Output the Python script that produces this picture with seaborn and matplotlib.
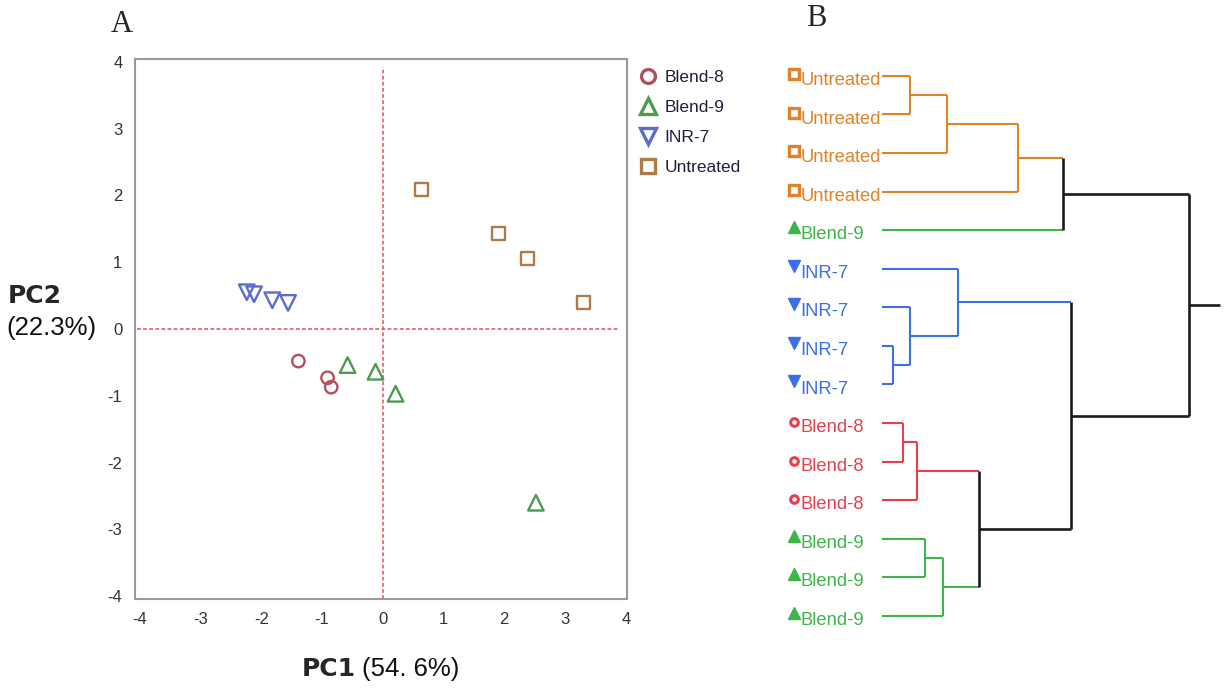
import numpy as np
import pandas as pd
import matplotlib
matplotlib.use("Agg")
import matplotlib.pyplot as plt
from matplotlib.lines import Line2D
import seaborn as sns

# ---- PCA scores (panel A) ----
blend8_pc1 = [-1.39, -0.91, -0.85]
blend8_pc2 = [-0.48, -0.73, -0.87]
blend9_pc1 = [-0.58, -0.12, 0.21, 2.52]
blend9_pc2 = [-0.54, -0.64, -0.97, -2.60]
inr7_pc1 = [-2.24, -2.12, -1.82, -1.56]
inr7_pc2 = [0.55, 0.52, 0.43, 0.39]
untreated_pc1 = [0.64, 1.90, 2.38, 3.30]
untreated_pc2 = [2.09, 1.43, 1.06, 0.40]

groups = ["Blend-8", "Blend-9", "INR-7", "Untreated"]
axis_ticks = [-4, -3, -2, -1, 0, 1, 2, 3, 4]
pc1_label, pc1_var = "PC1", "(54. 6%)"
pc2_label, pc2_var = "PC2", "(22.3%)"

# ---- hierarchical clustering (panel B) ----
leaf_groups = ["Untreated"] * 4 + ["Blend-9"] + ["INR-7"] * 4 + ["Blend-8"] * 3 + ["Blend-9"] * 3
# merges: node id = n_leaves + row index
merge_left = [0, 15, 16, 17, 7, 6, 5, 9, 22, 12, 24, 23, 21, 18]
merge_right = [1, 2, 3, 4, 8, 19, 20, 10, 11, 13, 14, 25, 26, 27]
merge_height = [85, 194, 409, 544, 34, 84, 229, 62, 106, 128, 182, 291, 566, 922]
root_tail = 1015

# ---- styling ----
sns.set_style("white")
plt.rcParams["font.family"] = ["Liberation Sans", "DejaVu Sans"]
plt.rcParams["axes.unicode_minus"] = False

pca_palette = {"Blend-8": "#B0505F", "Blend-9": "#4E9A50", "INR-7": "#5B6DC8", "Untreated": "#B07A48"}
pca_markers = {"Blend-8": "o", "Blend-9": "^", "INR-7": "v", "Untreated": "s"}
pca_sizes = {"Blend-8": 80, "Blend-9": 125, "INR-7": 125, "Untreated": 90}
tree_palette = {"Blend-8": "#E4404F", "Blend-9": "#3DB54A", "INR-7": "#3C6FE6", "Untreated": "#E0822A"}
tree_icons = {"Blend-8": "o", "Blend-9": "^", "INR-7": "v", "Untreated": "s"}
link_black = "#1c1c1c"
tick_color = "#333333"
frame_color = "#9a9a9a"
ref_red = "#E0505E"

W, H = 1225, 692
fig = plt.figure(figsize=(W / 100, H / 100), dpi=100)

def px_axes(left, top, right, bottom):
    return fig.add_axes([left / W, 1 - bottom / H, (right - left) / W, (bottom - top) / H])

# ================= Panel A: PCA score plot =================
ax = px_axes(135, 59, 627, 599)

df = pd.DataFrame({
    "PC1": blend8_pc1 + blend9_pc1 + inr7_pc1 + untreated_pc1,
    "PC2": blend8_pc2 + blend9_pc2 + inr7_pc2 + untreated_pc2,
    "Group": ["Blend-8"] * len(blend8_pc1) + ["Blend-9"] * len(blend9_pc1)
             + ["INR-7"] * len(inr7_pc1) + ["Untreated"] * len(untreated_pc1),
})

ax.axhline(0, xmin=0.005, xmax=0.985, color=ref_red, lw=1.1, ls=(0, (2.5, 1.5)), zorder=1)
ax.axvline(0, ymin=0.0, ymax=0.985, color=ref_red, lw=1.1, ls=(0, (2.5, 1.5)), zorder=1)

sns.scatterplot(data=df, x="PC1", y="PC2", hue="Group", style="Group", size="Group",
                hue_order=groups, style_order=groups, size_order=groups,
                palette=pca_palette, markers=pca_markers, sizes=pca_sizes,
                legend=False, ax=ax, zorder=3)
coll = ax.collections[-1]
fcs = coll.get_facecolors()
coll.set_edgecolors(fcs)
coll.set_facecolors("none")
coll.set_linewidths(1.7)

ax.set_xlim(-4.08, 4.02)
ax.set_ylim(-4.04, 4.04)
ax.set_xticks(axis_ticks)
ax.set_yticks(axis_ticks)
ax.set_xlabel("")
ax.set_ylabel("")
ax.tick_params(direction="out", length=6, width=1.2, color=frame_color,
               labelsize=12, labelcolor=tick_color, pad=3)
for t, v in zip(ax.xaxis.get_major_ticks(), axis_ticks):
    if v == 0:
        t.tick1line.set_color(ref_red)
for s in ax.spines.values():
    s.set_color(frame_color)
    s.set_linewidth(1.5)

handles = [Line2D([], [], ls="none", marker=pca_markers[g], markersize=12 if g in ("Blend-9", "INR-7") else 10,
                  markerfacecolor="none", markeredgecolor=pca_palette[g], markeredgewidth=2.4)
           for g in groups]
ax.legend(handles, groups, loc="upper left", bbox_to_anchor=(1.0, 1.002), frameon=False,
          fontsize=12.5, handlelength=1.0, handletextpad=0.45, labelspacing=0.86,
          borderaxespad=0.3, labelcolor="#20203a")

fig.text(356 / W, 1 - 669 / H, pc1_label, ha="right", va="center", fontsize=18,
         fontweight="heavy", family="DejaVu Sans")
fig.text(362 / W, 1 - 669 / H, pc1_var, ha="left", va="center", fontsize=18.5, color="#111111")
fig.text(8 / W, 1 - 296 / H, pc2_label, ha="left", va="center", fontsize=18,
         fontweight="heavy", family="DejaVu Sans")
fig.text(6 / W, 1 - 328 / H, pc2_var, ha="left", va="center", fontsize=18.5, color="#111111")

fig.text(122 / W, 1 - 24 / H, "A", ha="center", va="center", fontsize=22, family="Liberation Serif")
fig.text(816 / W, 1 - 19 / H, "B", ha="center", va="center", fontsize=22, family="Liberation Serif")

# ================= Panel B: dendrogram =================
n_leaves = len(leaf_groups)
tx = px_axes(882, 56.6, 1225, 635.1)
tx.set_xlim(0, 1029)
tx.set_ylim(n_leaves - 0.5, -0.5)
tx.axis("off")

node_y = {i: float(i) for i in range(n_leaves)}
node_h = {i: 0.0 for i in range(n_leaves)}
node_grp = {i: leaf_groups[i] for i in range(n_leaves)}

def color_of(n):
    g = node_grp[n]
    return tree_palette[g] if g is not None else link_black

def lw_of(n):
    return 1.5 if node_grp[n] is not None else 1.9

for k, (a, b, h) in enumerate(zip(merge_left, merge_right, merge_height)):
    n = n_leaves + k
    node_y[n] = (node_y[a] + node_y[b]) / 2
    node_h[n] = h
    node_grp[n] = node_grp[a] if node_grp[a] == node_grp[b] else None
    for c in (a, b):
        tx.plot([node_h[c], h], [node_y[c], node_y[c]], color=color_of(c), lw=lw_of(c),
                solid_capstyle="butt", clip_on=False)
    tx.plot([h, h], [node_y[a], node_y[b]], color=color_of(n), lw=lw_of(n),
            solid_capstyle="butt", clip_on=False)

root = n_leaves + len(merge_height) - 1
tx.plot([node_h[root], root_tail], [node_y[root], node_y[root]], color=link_black, lw=1.9,
        solid_capstyle="butt", clip_on=False)

for i, g in enumerate(leaf_groups):
    col = tree_palette[g]
    icon = tree_icons[g]
    if icon == "o":
        tx.plot(-265, i - 0.02, marker="o", ms=5.5, mfc="white", mec=col, mew=2.2, clip_on=False)
    elif icon == "s":
        tx.plot(-265, i - 0.05, marker="s", ms=6.5, mfc="white", mec=col, mew=2.4, clip_on=False)
    else:
        tx.plot(-265, i - 0.08, marker=icon, ms=9, mfc=col, mec=col, mew=1.0, clip_on=False)
    tx.text(-245, i + 0.12, g, ha="left", va="center", fontsize=13.2, color=col,
            clip_on=False)

fig.savefig("out.png", dpi=100)
